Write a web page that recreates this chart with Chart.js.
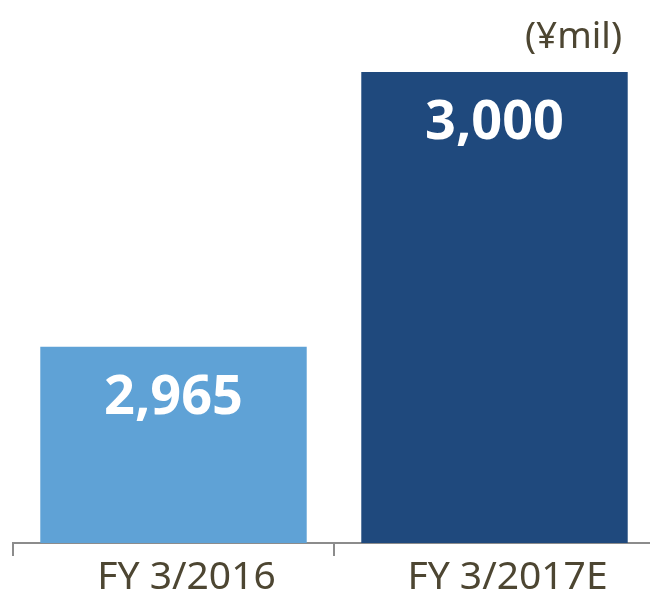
<!DOCTYPE html>
<html>
<head>
<meta charset="utf-8">
<script src="https://cdn.jsdelivr.net/npm/chart.js@4"></script>
<style>
  html, body { margin: 0; padding: 0; background: #fff; overflow: hidden; }
  #wrap { width: 655px; height: 595px; }
</style>
</head>
<body>
<div id="wrap"><canvas id="myChart"></canvas></div>
<script>
var labels = ['FY 3/2016', 'FY 3/2017E'];
var sales = [2965, 3000];
var barColors = ['#5fa2d6', '#1f497d'];
var unitText = '(¥mil)';

// white value labels inside top of each bar, plus unit text top right
var valueLabels = {
  id: 'valueLabels',
  afterDatasetsDraw: function(chart) {
    var ctx = chart.ctx;
    var meta = chart.getDatasetMeta(0);
    ctx.save();
    ctx.fillStyle = '#ffffff';
    ctx.font = 'bold 54px "Noto Sans"';
    ctx.textAlign = 'center';
    ctx.textBaseline = 'middle';
    meta.data.forEach(function(bar, i) {
      ctx.fillText(sales[i].toLocaleString('en-US'), bar.x, bar.y + 52);
    });
    ctx.fillStyle = '#4d4632';
    ctx.font = '37px "Noto Sans"';
    ctx.textAlign = 'right';
    ctx.fillText(unitText, 622, 37);
    ctx.restore();
  }
};

var ctx = document.getElementById('myChart').getContext('2d');
var salesChart = new Chart(ctx, {
  type: 'bar',
  data: {
    labels: labels,
    datasets: [{
      label: 'Sales',
      data: sales,
      backgroundColor: barColors,
      categoryPercentage: 0.83,
      barPercentage: 1.0
    }]
  },
  options: {
    responsive: true,
    maintainAspectRatio: false,
    animation: false,
    layout: { padding: { top: 72, left: 13, right: 0, bottom: 0 } },
    plugins: {
      legend: { display: false },
      tooltip: { enabled: false }
    },
    scales: {
      x: {
        grid: {
          offset: true,
          drawOnChartArea: false,
          drawTicks: true,
          tickLength: 13,
          color: '#8c8c8c',
          lineWidth: 2
        },
        border: { display: true, color: '#8c8c8c', width: 2 },
        ticks: {
          color: '#4d4632',
          font: { family: 'Noto Sans', size: 39, lineHeight: 1 },
          padding: 2,
          labelOffset: 13
        },
        afterFit: function(scale) { scale.height = 52; }
      },
      y: {
        display: false,
        min: 2940,
        max: 3000
      }
    }
  },
  plugins: [valueLabels]
});
</script>
</body>
</html>
